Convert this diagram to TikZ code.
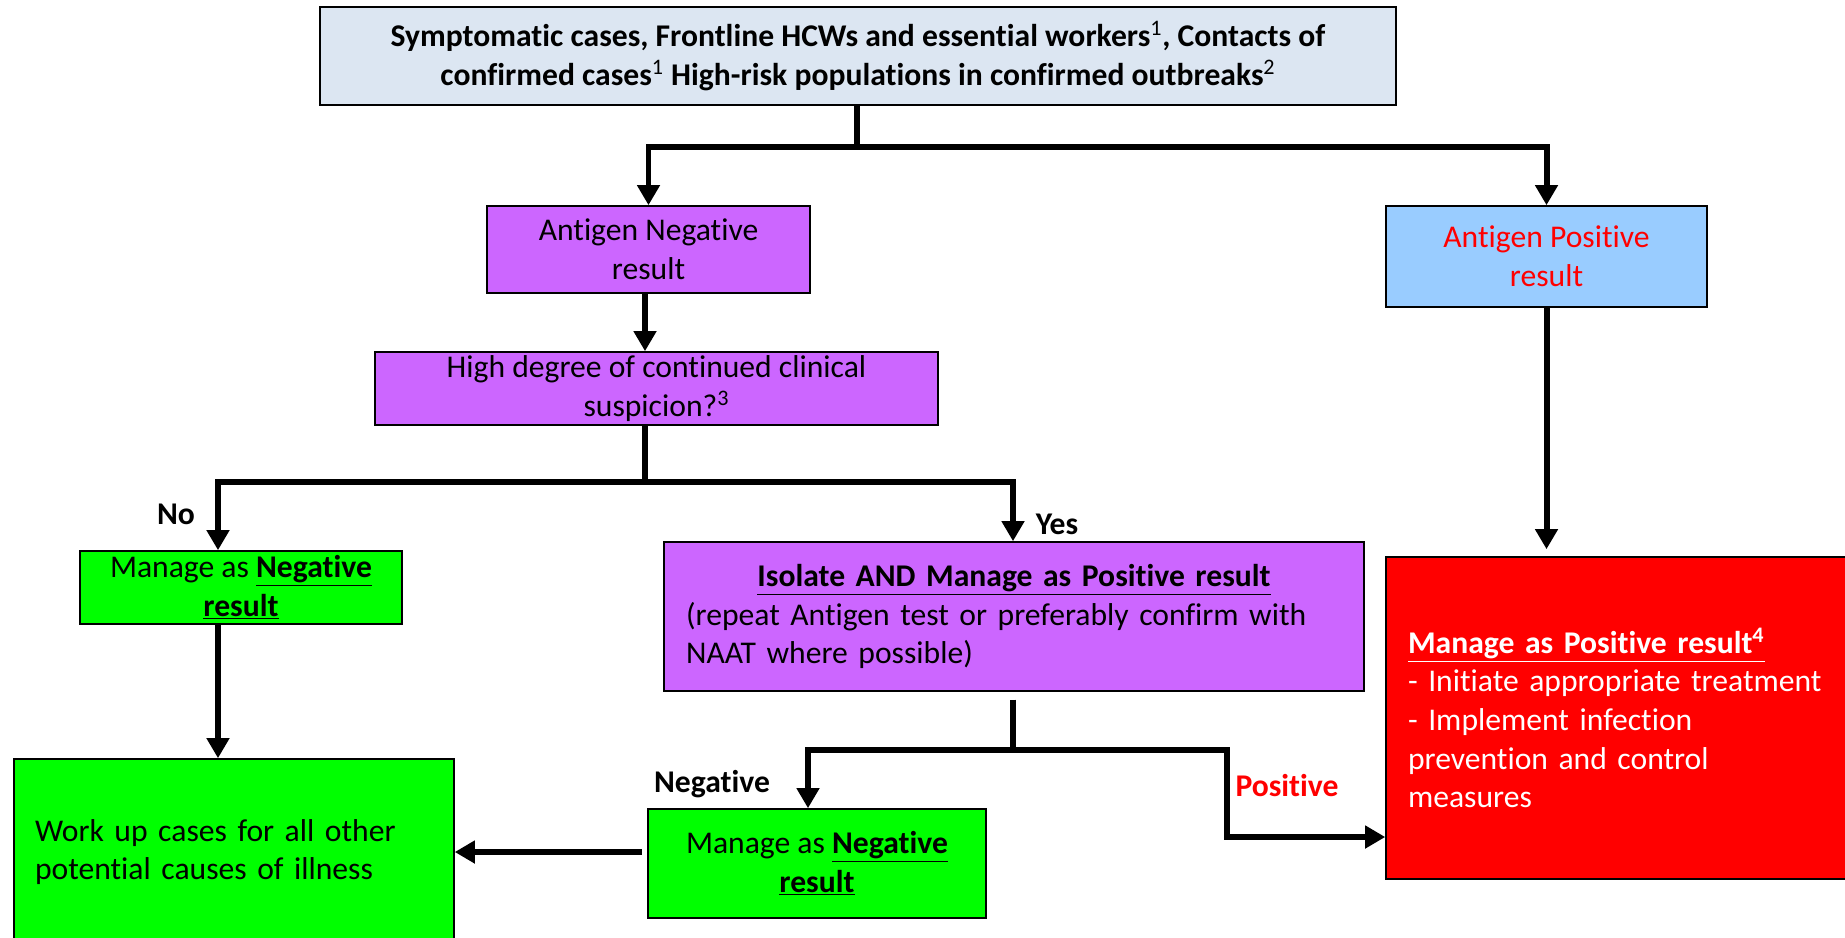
\documentclass[tikz,border=0pt]{standalone}
\usepackage{fontspec}
\setmainfont[Ligatures=NoCommon]{Carlito}
\usetikzlibrary{arrows.meta}
\definecolor{topblue}{HTML}{DCE6F2}
\definecolor{lilac}{HTML}{CC66FF}
\definecolor{skyblue}{HTML}{99CCFF}
\definecolor{brightgreen}{HTML}{00FF00}
\definecolor{alertred}{HTML}{FF0000}
\tikzset{box/.style={draw,line width=0.9pt,inner sep=0pt,align=center,
    font=\fontsize{18}{22}\selectfont}}

\begin{document}
\begin{tikzpicture}[x=0.02cm,y=-0.02cm,
            flow/.style={line width=3.4pt},
            arr/.style={flow,-{Triangle[length=11.5pt,width=12.5pt]}},
            tag/.style={font=\fontsize{18}{22}\selectfont\bfseries}
            ]
            \useasboundingbox (0,0) rectangle (1845,937);
            % boxes
            \node[box,fill=topblue,minimum width=21.52cm,minimum height=1.96cm,
                font=\fontsize{18}{22}\selectfont\bfseries] (top) at (858,56)
                {Symptomatic cases, Frontline HCWs and essential workers\textsuperscript{\mdseries 1}, Contacts of\\
                 confirmed cases\textsuperscript{\mdseries 1} High-risk populations in confirmed outbreaks\textsuperscript{\mdseries 2}};
            \node[box,fill=lilac,minimum width=6.46cm,minimum height=1.74cm] (neg) at (648.5,249.5)
                {Antigen Negative\\result};
            \node[box,fill=skyblue,text=alertred,minimum width=6.42cm,minimum height=2.02cm] (pos) at (1546.5,256.5)
                {Antigen Positive\\result};
            \node[box,fill=lilac,minimum width=11.26cm,minimum height=1.46cm] (susp) at (656.5,388.5)
                {High degree of continued clinical\\suspicion?\textsuperscript{3}};
            \node[box,fill=brightgreen,minimum width=6.44cm,minimum height=1.46cm] (mnl) at (241,587.5)
                {Manage as \underline{\textbf{Negative}}\\\underline{\textbf{result}}};
            \node[box,fill=lilac,align=left,text width=13.12cm,inner xsep=0.44cm,minimum height=2.98cm] (iso) at (1014,616.5)
                {\makebox[\linewidth]{\underline{\textbf{Isolate AND Manage as Positive result}}}\\
                 (repeat Antigen test or preferably confirm with\\NAAT where possible)};
            \node[box,fill=alertred,text=white,align=left,text width=8.6cm,inner xsep=0.44cm,minimum height=6.44cm] (red) at (1623,718)
                {\underline{\textbf{Manage as Positive result\textsuperscript{4}}}\\
                 - Initiate appropriate treatment\\- Implement infection\\prevention and control\\measures};
            \node[box,fill=brightgreen,minimum width=6.76cm,minimum height=2.18cm] (mnb) at (817,863.5)
                {Manage as \underline{\textbf{Negative}}\\\underline{\textbf{result}}};
            \node[box,fill=brightgreen,align=left,text width=7.96cm,inner xsep=0.42cm,minimum height=3.72cm] (work) at (234,852)
                {Work up cases for all other\\potential causes of illness};
            % branch points
            \coordinate (j1) at (857,147);
            \coordinate (j2) at (645,482);
            \coordinate (nob) at (218,482);
            \coordinate (yesb) at (1013,482);
            \coordinate (j3) at (1013,750);
            \coordinate (negb) at (808,750);
            \coordinate (posb) at (1227,750);
            \coordinate (posc) at (1227,837);
            % connectors
            \draw[flow] (top.south -| j1) -- (j1);
            \draw[arr] (j1) -| (neg.north);
            \draw[arr] (j1) -| (pos.north);
            \draw[arr] (neg.south -| j2) -- (susp.north -| j2);
            \draw[flow] (susp.south -| j2) -- (j2);
            \draw[arr] (j2) -- (nob) -- (nob |- mnl.north);
            \draw[arr] (j2) -- (yesb) -- (yesb |- iso.north);
            \draw[arr] (mnl.south -| nob) -- (work.north -| nob);
            \draw[flow,shorten <=4.5pt] (iso.south -| j3) -- (j3);
            \draw[arr] (j3) -- (negb) -- (negb |- mnb.north);
            \draw[arr] (j3) -- (posb) -- (posc) -- (posc -| red.west);
            \draw[arr,shorten <=3pt] (mnb.west |- work.east) -- (work.east);
            \draw[arr,shorten >=4pt] (pos.south) -- (pos.south |- red.north);
            % labels
            \node[tag] (no) at (176,514) {No};
            \node[tag] (yes) at (1057,524) {Yes};
            \node[tag] (neglab) at (712,784) {Negative};
            \node[tag,text=alertred] (poslab) at (1287,786) {Positive};
        \end{tikzpicture}
\end{document}
